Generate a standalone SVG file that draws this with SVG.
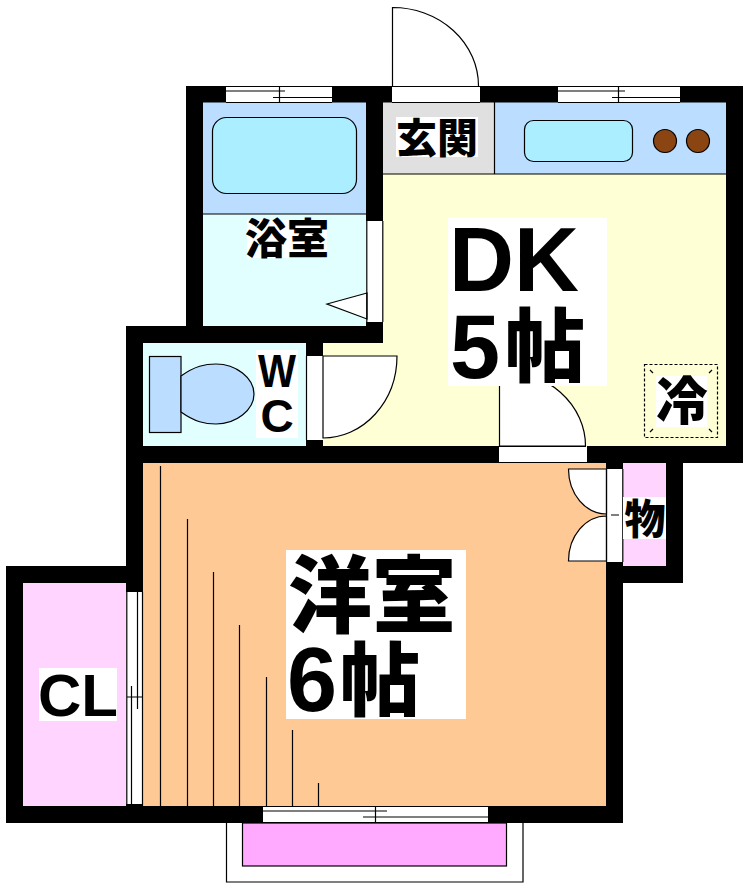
<svg xmlns="http://www.w3.org/2000/svg" width="747" height="889" viewBox="0 0 747 889">
<style>
.w{fill:#000}
.l{fill:none;stroke:#000;stroke-width:1.2}
.o{stroke:#000;stroke-width:1.2}
.wh{fill:#fff}
.t{font-family:"Liberation Sans","Noto Sans CJK JP",sans-serif;font-weight:700;fill:#000;text-anchor:middle}
.j{font-family:"Noto Sans CJK JP",sans-serif;font-weight:900;fill:#000;text-anchor:middle}
.s{font-family:"Liberation Sans",sans-serif;font-weight:700;fill:#000}
.k{font-family:"Noto Sans CJK JP",sans-serif;font-weight:900;fill:#000}
</style>
<rect width="747" height="889" fill="#fff"/>
<g id="floors">
<rect x="203" y="102" width="163" height="112" fill="#BBDDFF"/>
<rect x="203" y="214" width="163" height="112" fill="#E2FFFF"/>
<rect x="143" y="343" width="163" height="103" fill="#E2FFFF"/>
<rect x="383" y="102" width="112" height="72" fill="#E0E0E0"/>
<rect x="495" y="102" width="231" height="72" fill="#BBDDFF"/>
<path d="M383 174H726V446H323V343H383Z" fill="#FFFFD5"/>
<rect x="143" y="463" width="463" height="343" fill="#FFC996"/>
<rect x="23" y="583" width="103" height="223" fill="#FFD5FF"/>
<rect x="623" y="463" width="43" height="103" fill="#FFD5FF"/>
</g>
<g id="balcony">
<path class="l" d="M226.500 823V882H523V823"/>
<rect x="242.500" y="823" width="264" height="43" fill="#FFAAFF" stroke="#000" stroke-width="1.200"/>
</g>
<g id="walls">
<rect class="w" x="186" y="86" width="40" height="16.500"/>
<rect class="w" x="332" y="86" width="60" height="16.500"/>
<rect class="w" x="480" y="86" width="78" height="16.500"/>
<rect class="w" x="680" y="86" width="63" height="16.500"/>
<rect class="w" x="186" y="86" width="17" height="257"/>
<rect class="w" x="366" y="102" width="17" height="119"/>
<rect class="w" x="366" y="322" width="17" height="21"/>
<rect class="w" x="126" y="326" width="257" height="17"/>
<rect class="w" x="126" y="326" width="17" height="266"/>
<rect class="w" x="306" y="343" width="17" height="13"/>
<rect class="w" x="306" y="440" width="17" height="6"/>
<rect class="w" x="126" y="446" width="373" height="17"/>
<rect class="w" x="587" y="446" width="156" height="17"/>
<rect class="w" x="726" y="86" width="17" height="377"/>
<rect class="w" x="606" y="463" width="17" height="6"/>
<rect class="w" x="606" y="562" width="17" height="261"/>
<rect class="w" x="666" y="463" width="17" height="120"/>
<rect class="w" x="606" y="566" width="77" height="17"/>
<rect class="w" x="6" y="566" width="137" height="17"/>
<rect class="w" x="6" y="566" width="17" height="257"/>
<rect class="w" x="126" y="804" width="17" height="3"/>
<rect class="w" x="6" y="806" width="257" height="17"/>
<rect class="w" x="488" y="806" width="135" height="17"/>
</g>
<g id="flooring">
<path class="l" d="M160.500 466V806M187.500 519V806M213.500 572V806M239.500 625V806M266.500 677V806M292.500 730V806M318.500 783V806"/>
</g>
<g id="connectors">
<g id="window-bath">
<rect class="wh" x="226" y="86" width="106" height="16.500"/>
<path class="l" d="M226 86.500H332M226 102.500H332M226 91H285M273 97.500H332M279.500 86V102"/>
</g>
<g id="window-kitchen">
<rect class="wh" x="558" y="86" width="122" height="16.500"/>
<path class="l" d="M558 86.500H680M558 102.500H680M558 91H625M612 97.500H680M618.500 86V102"/>
</g>
<g id="window-balcony">
<rect class="wh" x="263" y="806" width="225" height="17"/>
<path class="l" d="M263 806.500H488M263 822.500H488M263 811H387M363 817H488M375.500 806V822"/>
</g>
<g id="window-closet">
<rect class="wh" x="126.500" y="592" width="16.500" height="212"/>
<path class="l" d="M126.800 592V806M142.500 592V806M131.500 686V806M137.500 592V709M127 697H142"/>
</g>
<g id="door-entry">
<path class="l" d="M392.500 86V7.500A86 78.500 0 0 1 478.500 86"/>
<path class="l" d="M392 86.500H480M392 102.500H480"/>
</g>
<g id="door-bath">
<rect class="wh" x="366.500" y="221" width="16.500" height="101"/>
<path d="M367 293L327 304L367 319Z" class="o" fill="#fff"/>
<path class="l" d="M366.800 221V322M382.800 221V322"/>
</g>
<g id="door-wc">
<rect class="wh" x="306.500" y="356" width="16.500" height="84"/>
<path d="M323 356H397A74 82 0 0 1 323 438Z" class="o" fill="#fff"/>
<path class="l" d="M306.500 356V440"/>
</g>
<g id="door-dk">
<path d="M499.500 446V370A86 76 0 0 1 585.500 446Z" class="o" fill="#fff"/>
<rect class="wh" x="499.500" y="446.500" width="87.500" height="16"/>
<path class="l" d="M499 446.500H586M499 462.500H587"/>
</g>
<g id="door-storage">
<rect class="wh" x="606.500" y="469" width="16.500" height="93"/>
<path d="M606.500 469H568.500A38 45 0 0 0 606.500 514Z" class="o" fill="#fff"/>
<path d="M606.500 561H568.500A38 45 0 0 1 606.500 516Z" class="o" fill="#fff"/>
<path class="l" d="M606.500 469V562M622.800 469V562M611 515H619"/>
</g>
</g>
<g id="bath">
<rect x="212.500" y="117.500" width="144" height="76" rx="14" fill="#AAEEFF" stroke="#000" stroke-width="1.200"/>
<path d="M203 214H366" class="l"/>
<rect class="wh" x="247" y="220" width="80" height="38"/>
<text class="j" x="287" y="254" font-size="42">浴室</text>
</g>
<g id="genkan">
<path d="M383 174H726M494.500 102V174" class="l"/>
<rect class="wh" x="396" y="117" width="82" height="40"/>
<text class="j" x="437" y="153" font-size="41">玄関</text>
</g>
<g id="kitchen">
<rect x="524.500" y="120.500" width="108" height="41" rx="9" fill="#AAEEFF" stroke="#000" stroke-width="1.200"/>
<circle cx="665" cy="141" r="11.500" fill="#8B4513" stroke="#000" stroke-width="1.200"/>
<circle cx="698" cy="141" r="11.500" fill="#8B4513" stroke="#000" stroke-width="1.200"/>
</g>
<g id="wc">
<rect x="149.500" y="356.500" width="31.500" height="76" fill="#BBDDFF" stroke="#000" stroke-width="1.200"/>
<path d="M181 376C195 366 205 364 216 364C236 364 254 378 254 394C254 410 236 424 216 424C205 424 195 422 181 412Z" fill="#BBDDFF" stroke="#000" stroke-width="1.200"/>
<rect class="wh" x="256" y="350" width="42" height="88"/>
<text class="s" x="258" y="387" font-size="46" textLength="38" lengthAdjust="spacingAndGlyphs">W</text>
<text class="t" x="277" y="432" font-size="46">C</text>
</g>
<g id="dk">
<rect class="wh" x="448" y="218" width="159" height="168"/>
<text class="s" x="449" y="291" font-size="90">DK</text>
<text class="s" x="450" y="378" font-size="90">5</text>
<text class="k" x="505" y="375" font-size="80">帖</text>
</g>
<g id="fridge">
<rect x="644.500" y="364.500" width="73" height="73" fill="none" stroke="#000" stroke-width="1.200" stroke-dasharray="3 2"/>
<path class="l" d="M650 370L653 373M712 370L709 373M650 432L653 429M712 432L709 429"/>
<rect class="wh" x="656" y="376" width="51" height="51"/>
<text class="j" x="682" y="420" font-size="52">冷</text>
</g>
<g id="storage">
<rect class="wh" x="623" y="497" width="43" height="42"/>
<text class="j" x="645" y="534" font-size="41">物</text>
</g>
<g id="western">
<rect class="wh" x="286" y="550" width="180" height="169"/>
<text class="j" x="372" y="626" font-size="84">洋室</text>
<text class="s" x="287" y="711" font-size="90">6</text>
<text class="k" x="340" y="709" font-size="80">帖</text>
</g>
<g id="closet">
<rect class="wh" x="39" y="668" width="78" height="53"/>
<text class="t" x="78" y="716" font-size="60">CL</text>
</g>
</svg>
